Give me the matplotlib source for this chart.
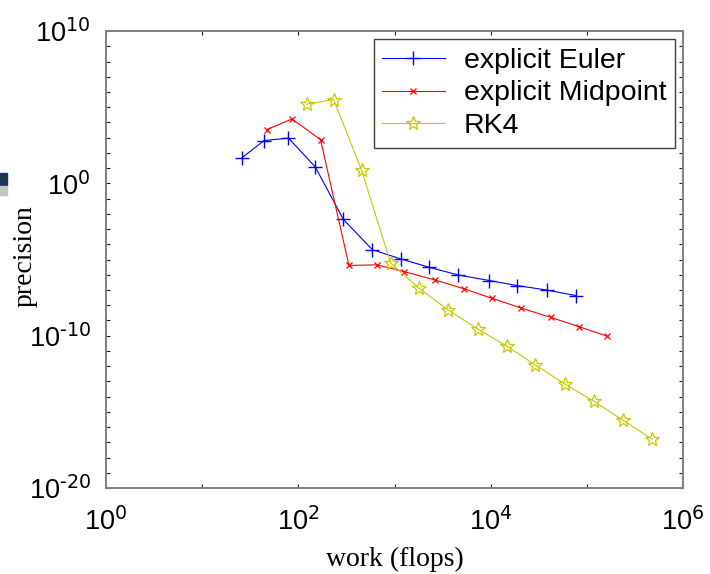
import matplotlib
matplotlib.use('Agg')
import matplotlib.pyplot as plt
from matplotlib.patches import Rectangle

plt.rcParams['font.family'] = ['Liberation Sans', 'DejaVu Sans']

# work (flops) and precision per method
euler_work = [26, 44, 79, 150, 294, 590, 1160, 2300, 4570, 9700, 18900, 38300, 77000]
euler_prec = [49, 650, 950, 12, 4.3e-3, 4.4e-5, 1.1e-5, 3.1e-6, 9.8e-7, 4.2e-7, 1.95e-7, 1.0e-7, 4.3e-8]

mid_work = [47, 86, 170, 336, 652, 1270, 2630, 5280, 10400, 20800, 42000, 83200, 163000]
mid_prec = [3400, 17000, 750, 4.1e-6, 4.5e-6, 1.6e-6, 4.6e-7, 1.2e-7, 2.8e-8, 6.5e-9, 1.6e-9, 3.9e-10, 9.3e-11]

rk4_work = [122, 233, 455, 912, 1800, 3610, 7310, 14800, 29100, 58700, 119000, 238000, 479000]
rk4_prec = [1.6e5, 3.2e5, 7.2, 6.0e-6, 1.3e-7, 4.9e-9, 2.8e-10, 2.0e-11, 1.2e-12, 6.9e-14, 4.8e-15, 2.8e-16, 1.6e-17]

labels = ['explicit Euler', 'explicit Midpoint', 'RK4']

fig = plt.figure(figsize=(7.1, 5.74), dpi=100)
ax = fig.add_axes([0.1493, 0.1498, 0.8127, 0.796])

ax.loglog(euler_work, euler_prec, color='#0000ff', lw=0.8, marker='+', ms=10, mew=1.0, label=labels[0])
ax.loglog(mid_work, mid_prec, color='#ff0000', lw=0.8, marker='x', ms=5, mew=0.9, label=labels[1])
ax.loglog(rk4_work, rk4_prec, color='#c8c800', lw=0.8, marker='*', ms=10, mew=0.9,
          fillstyle='none', label=labels[2])

ax.set_xlim(1, 1e6)
ax.set_ylim(1e-20, 1e10)

def lab(k):
    return r'$\mathregular{10^{\text{%d}}}$' % k

xt = [10.0**k for k in range(0, 7)]
ax.set_xticks(xt)
ax.set_xticklabels([lab(k) if k % 2 == 0 else '' for k in range(0, 7)])
yt = [10.0**k for k in range(-20, 11)]
ax.set_yticks(yt)
ax.set_yticklabels([lab(k) if k % 10 == 0 else '' for k in range(-20, 11)])
ax.minorticks_off()

ax.tick_params(which='major', direction='in', length=3, width=0.8, top=True, right=True,
               labelsize=19.5, color='#202020')
ax.tick_params(axis='x', pad=14)
ax.tick_params(axis='y', pad=11)
for s in ax.spines.values():
    s.set_color('#808080')
    s.set_linewidth(1.4)

ax.set_xlabel('work (flops)', family='Liberation Serif', fontsize=20)
ax.xaxis.set_label_coords(0.5, -0.128)
ax.set_ylabel('precision', family='Liberation Serif', fontsize=20)
ax.yaxis.set_label_coords(-0.118, 0.507)

leg = ax.legend(loc='upper right', bbox_to_anchor=(0.986, 0.9825), borderaxespad=0,
                fontsize=20.5, fancybox=False, framealpha=1, edgecolor='#404040',
                handlelength=2.2, handletextpad=0.67, labelspacing=0.24, borderpad=0.3)
leg.get_frame().set_linewidth(1.0)

# slide remnant at the left edge
fig.patches.append(Rectangle((0, 1 - 185 / 574), 7 / 710, 12 / 574, transform=fig.transFigure,
                             color='#1c3457', zorder=5))
fig.patches.append(Rectangle((0, 1 - 195 / 574), 7 / 710, 9 / 574, transform=fig.transFigure,
                             color='#c4c4c4', zorder=5))

fig.savefig('out.png', dpi=100)
